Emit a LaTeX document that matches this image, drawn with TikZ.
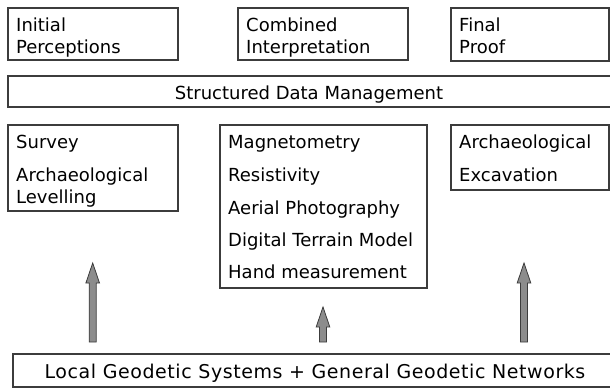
\documentclass[tikz,border=0pt]{standalone}
\usepackage{fontspec}
\setmainfont{DejaVu Sans}
\usetikzlibrary{calc}
\definecolor{edge}{HTML}{3C3C3C}
\definecolor{shaft}{HTML}{8C8C8C}
\tikzset{
  panel/.style={draw=edge, line width=1.1pt, fill=white, inner sep=0pt, outer sep=0pt},
  label/.style={anchor=base west, inner sep=0pt, font=\fontsize{18}{21}\selectfont, text=black},
  clabel/.style={anchor=base, inner sep=0pt, font=\fontsize{18}{21}\selectfont, text=black},
  fatarrow/.style={draw=edge, line width=0.8pt, fill=shaft, line join=miter}
}
% block arrow from base #1 to tip #2
\newcommand{\blockarrow}[2]{%
  \draw[fatarrow] ($(#1)+(-3.5,0)$) -- ($(#2)+(-3.5,20)$) -- ($(#2)+(-6.8,20)$) -- (#2)
    -- ($(#2)+(6.8,20)$) -- ($(#2)+(3.5,20)$) -- ($(#1)+(3.5,0)$) -- cycle;}
\begin{document}
\begin{tikzpicture}[x=1pt,y=-1pt]
\useasboundingbox (0,0) rectangle (610,388);
\clip (0,0) rectangle (610,388);
% top row
\draw[panel] (8,8) rectangle (178,60) node[pos=0] (ip) {};
\draw[panel] (238,8) rectangle (408,60) node[pos=0] (ci) {};
\draw[panel] (451,8) rectangle (609,61) node[pos=0] (fp) {};
\node[label] at (16,31) {Initial};
\node[label] at (16,53) {Perceptions};
\node[label] at (246,31) {Combined};
\node[label] at (246,53) {Interpretation};
\node[label] at (459,31) {Final};
\node[label] at (459,53) {Proof};
% data management bar
\draw[panel] (8,76) rectangle (616,107);
\node[clabel] (sdm) at (309,99) {Structured Data Management};
% method boxes
\draw[panel] (8,125) rectangle (178,211);
\node[label] at (16,148) {Survey};
\node[label] at (16,181) {Archaeological};
\node[label] at (16,203) {Levelling};
\draw[panel] (220,125) rectangle (427,288);
\node[label] at (228,148) {Magnetometry};
\node[label] at (228,181) {Resistivity};
\node[label] at (228,214) {Aerial Photography};
\node[label] at (228,246) {Digital Terrain Model};
\node[label] at (228,278) {Hand measurement};
\draw[panel] (451,125) rectangle (609,190);
\node[label] at (459,148) {Archaeological};
\node[label] at (459,181) {Excavation};
% geodetic base
\draw[panel] (13,354) rectangle (616,387);
\node[clabel, font=\fontsize{19}{22}\selectfont] (lg) at (315,378) {\addfontfeatures{LetterSpace=3}Local Geodetic Systems + General Geodetic Networks};
% arrows
\coordinate (b1) at (92.7,342);
\coordinate (t1) at (92.7,263);
\coordinate (b2) at (323,342);
\coordinate (t2) at (323,307);
\coordinate (b3) at (524,342);
\coordinate (t3) at (524,263);
\blockarrow{b1}{t1}
\blockarrow{b2}{t2}
\blockarrow{b3}{t3}
\end{tikzpicture}
\end{document}
